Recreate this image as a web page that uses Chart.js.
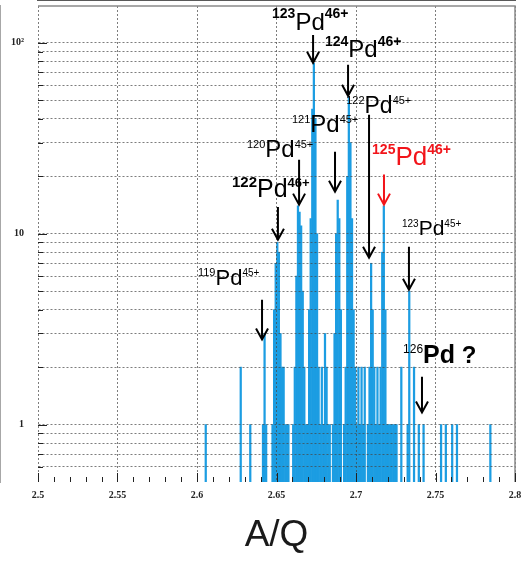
<!DOCTYPE html>
<html>
<head>
<meta charset="utf-8">
<script src="https://cdn.jsdelivr.net/npm/chart.js@4.4.1/dist/chart.umd.min.js"></script>
<style>
  html, body { margin: 0; padding: 0; background: #fff; }
  #wrap { width: 524px; height: 562px; }
</style>
</head>
<body>
<div id="wrap"><canvas id="aqChart"></canvas></div>
<script>
// centre of each filled 0.001 wide A/Q bin, and its count
const binCenters = [
  2.6055, 2.6275, 2.6335, 2.6415, 2.6425, 2.6435,
  2.6475, 2.6485, 2.6495, 2.6505, 2.6515, 2.6525, 2.6535, 2.6545, 2.6555, 2.6565, 2.6575,
  2.6605, 2.6615, 2.6625, 2.6635, 2.6645, 2.6655, 2.6665, 2.6675, 2.6685, 2.6695,
  2.6705, 2.6715, 2.6725, 2.6735, 2.6745, 2.6755, 2.6765, 2.6775, 2.6785, 2.6795,
  2.6805, 2.6815, 2.6825, 2.6835, 2.6855, 2.6865, 2.6875, 2.6885, 2.6895, 2.6905,
  2.6925, 2.6935, 2.6945, 2.6955, 2.6965, 2.6975, 2.6985, 2.6995,
  2.7005, 2.7015, 2.7025, 2.7035, 2.7045, 2.7055, 2.7075, 2.7085, 2.7095,
  2.7105, 2.7115, 2.7125, 2.7135, 2.7145, 2.7155, 2.7165, 2.7175, 2.7185, 2.7195,
  2.7205, 2.7215, 2.7225, 2.7235, 2.7245, 2.7255, 2.7285,
  2.7325, 2.7335, 2.7365, 2.7395, 2.7425, 2.7535, 2.7565, 2.7605, 2.7635, 2.7845
];
const counts = [
  1, 2, 1, 1, 3, 1,
  1, 4, 7, 9, 8, 3, 2, 2, 1, 1, 1,
  1, 2, 6, 14, 13, 11, 5, 2, 1, 1,
  4, 12, 45, 78, 40, 10, 2, 1, 2, 1,
  3, 2, 1, 1, 1, 3, 10, 15, 12, 4,
  1, 2, 20, 52, 30, 12, 4, 2,
  1, 2, 1, 2, 1, 2, 1, 2, 7,
  4, 2, 1, 2, 1, 2, 8, 14, 4, 1,
  1, 1, 1, 1, 1, 1, 2,
  1, 5, 2, 1, 1, 1, 1, 1, 1, 1
];

const xTicks = [2.5, 2.55, 2.6, 2.65, 2.7, 2.75, 2.8];
const xTickLabels = ['2.5', '2.55', '2.6', '2.65', '2.7', '2.75', '2.8'];
const yTicks = [0.6, 0.7, 0.8, 0.9, 1, 2, 3, 4, 5, 6, 7, 8, 9,
                10, 20, 30, 40, 50, 60, 70, 80, 90, 100];
const yLabelValues = [1, 10, 100];
const yLabelTexts = ['1', '10', '10\u00b2'];

// peak annotations, placed in data units (A/Q, counts)
// parts: [text, font size, bold, raise]
const peakLabels = [
  { aq: 2.6472, n: 117, color: '#000', parts: [['123', 14, true, 12], ['Pd', 24, false, 0], ['46+', 14, true, 12]] },
  { aq: 2.6805, n: 84.5, color: '#000', parts: [['124', 14, true, 11], ['Pd', 24, false, 0], ['46+', 14, true, 11]] },
  { aq: 2.6938, n: 43, color: '#000', parts: [['122', 11, false, 9], ['Pd', 23, false, 0], ['45+', 11, false, 9]] },
  { aq: 2.6597, n: 34.2, color: '#000', parts: [['121', 11, false, 9], ['Pd', 24, false, 0], ['45+', 11, false, 9]] },
  { aq: 2.6314, n: 25.3, color: '#000', parts: [['120', 11, false, 9], ['Pd', 24, false, 0], ['45+', 11, false, 9]] },
  { aq: 2.6220, n: 15.6, color: '#000', parts: [['122', 15, true, 10], ['Pd', 25, false, 0], ['46+', 13, true, 10]] },
  { aq: 2.7101, n: 23.0, color: '#f2141a', parts: [['125', 14, true, 11], ['Pd', 26, false, 0], ['46+', 14, true, 11]] },
  { aq: 2.7289, n: 9.9, color: '#000', parts: [['123', 10, false, 8], ['Pd', 21, false, 0], ['45+', 10, false, 8]] },
  { aq: 2.6006, n: 5.41, color: '#000', parts: [['119', 11, false, 9], ['Pd', 22, false, 0], ['45+', 10, false, 9]] },
  { aq: 2.7296, n: 2.11, color: '#000', parts: [['126', 12, false, 10], ['Pd', 25, true, 0], [' ?', 24, true, 0]] }
];
// arrows: A/Q position, tail and tip in counts
const peakArrows = [
  { aq: 2.6730, from: 110, to: 78.6, color: '#000' },
  { aq: 2.6950, from: 76.7, to: 52.8, color: '#000' },
  { aq: 2.7082, from: 42.0, to: 7.49, color: '#000' },
  { aq: 2.6868, from: 26.9, to: 16.6, color: '#000' },
  { aq: 2.6642, from: 24.4, to: 14.2, color: '#000' },
  { aq: 2.6509, from: 13.8, to: 9.3, color: '#000' },
  { aq: 2.7176, from: 20.4, to: 14.2, color: '#f2141a' },
  { aq: 2.7333, from: 8.55, to: 5.09, color: '#000' },
  { aq: 2.6409, from: 4.51, to: 2.79, color: '#000' },
  { aq: 2.7415, from: 1.78, to: 1.156, color: '#000' }
];

const gridColor = 'rgba(70,70,70,0.7)';
const textFont = '"Liberation Sans", Arial, sans-serif';

const overlay = {
  id: 'overlay',
  afterDraw(chart) {
    const ctx = chart.ctx;
    const xs = chart.scales.x;
    const ys = chart.scales.y;
    const area = chart.chartArea;

    ctx.save();
    // frame top and right
    ctx.strokeStyle = '#8a8a8a';
    ctx.lineWidth = 1.5;
    ctx.beginPath();
    ctx.moveTo(area.left, area.top);
    ctx.lineTo(area.right, area.top);
    ctx.lineTo(area.right, area.bottom);
    ctx.stroke();

    // inside tick marks (ROOT style)
    ctx.strokeStyle = '#222';
    ctx.lineWidth = 1;
    ctx.beginPath();
    for (let i = 0; i <= 30; i++) {
      const px = Math.round(xs.getPixelForValue(2.5 + i * 0.01)) + 0.5;
      const len = i % 5 === 0 ? 9 : 5;
      ctx.moveTo(px, area.bottom);
      ctx.lineTo(px, area.bottom - len);
    }
    yTicks.forEach(v => {
      const py = Math.round(ys.getPixelForValue(v)) + 0.5;
      const len = yLabelValues.includes(v) ? 9 : 5;
      ctx.moveTo(area.left, py);
      ctx.lineTo(area.left + len, py);
    });
    ctx.stroke();

    // arrows
    ctx.lineWidth = 2;
    ctx.lineJoin = 'miter';
    peakArrows.forEach(a => {
      const x = xs.getPixelForValue(a.aq);
      const y1 = ys.getPixelForValue(a.from);
      const y2 = ys.getPixelForValue(a.to);
      ctx.strokeStyle = a.color;
      ctx.beginPath();
      ctx.moveTo(x, y1);
      ctx.lineTo(x, y2);
      ctx.moveTo(x - 6, y2 - 11);
      ctx.lineTo(x, y2);
      ctx.lineTo(x + 6, y2 - 11);
      ctx.stroke();
    });

    // labels
    ctx.textBaseline = 'alphabetic';
    ctx.textAlign = 'left';
    peakLabels.forEach(l => {
      let x = xs.getPixelForValue(l.aq);
      const y = ys.getPixelForValue(l.n);
      ctx.fillStyle = l.color;
      l.parts.forEach(([text, size, bold, up]) => {
        ctx.font = (bold ? 'bold ' : '') + size + 'px ' + textFont;
        ctx.fillText(text, x, y - up);
        x += ctx.measureText(text).width;
      });
    });
    ctx.restore();
  }
};

new Chart(document.getElementById('aqChart'), {
  type: 'bar',
  data: {
    datasets: [{
      label: 'A/Q',
      data: binCenters.map((aq, i) => ({ x: aq, y: counts[i] })),
      backgroundColor: '#1c9de2',
      borderWidth: 0,
      barPercentage: 1,
      categoryPercentage: 1
    }]
  },
  options: {
    responsive: true,
    maintainAspectRatio: false,
    animation: false,
    layout: { padding: { top: 6, right: 9, left: 0, bottom: 0 } },
    plugins: {
      legend: { display: false },
      tooltip: { enabled: false }
    },
    scales: {
      x: {
        type: 'linear',
        min: 2.5,
        max: 2.8,
        offset: false,
        afterBuildTicks: s => { s.ticks = xTicks.map(v => ({ value: v })); },
        // fixed axis box so the plot frame lands where the original has it
        afterFit: s => { s.height = 80; s.paddingLeft = 0; s.paddingRight = 0; },
        ticks: {
          autoSkip: false,
          maxRotation: 0,
          padding: 7,
          color: '#222',
          font: { family: '"Liberation Serif", serif', size: 10, weight: 'bold' },
          callback: (v, i) => xTickLabels[i]
        },
        grid: { color: gridColor, lineWidth: 1, drawTicks: false, offset: false, z: 1 },
        border: { display: true, color: '#222', width: 1.5, dash: [2, 2] },
        title: {
          display: true,
          text: 'A/Q',
          color: '#1a1a1a',
          font: { family: textFont, size: 37 },
          padding: { top: 0, bottom: 4 }
        }
      },
      y: {
        type: 'logarithmic',
        min: 0.5,
        max: 156,
        beginAtZero: false,
        afterBuildTicks: s => { s.ticks = yTicks.map(v => ({ value: v })); },
        afterFit: s => { s.width = 38; s.paddingTop = 0; s.paddingBottom = 0; },
        ticks: {
          autoSkip: false,
          padding: 14,
          color: '#222',
          font: { family: '"Liberation Serif", serif', size: 10, weight: 'bold' },
          callback: v => {
            const i = yLabelValues.indexOf(v);
            return i >= 0 ? yLabelTexts[i] : '';
          }
        },
        grid: { color: gridColor, lineWidth: 1, drawTicks: false, z: 1 },
        border: { display: true, color: '#8a8a8a', width: 1.5, dash: [2, 2] }
      }
    }
  },
  plugins: [overlay]
});
</script>
</body>
</html>
